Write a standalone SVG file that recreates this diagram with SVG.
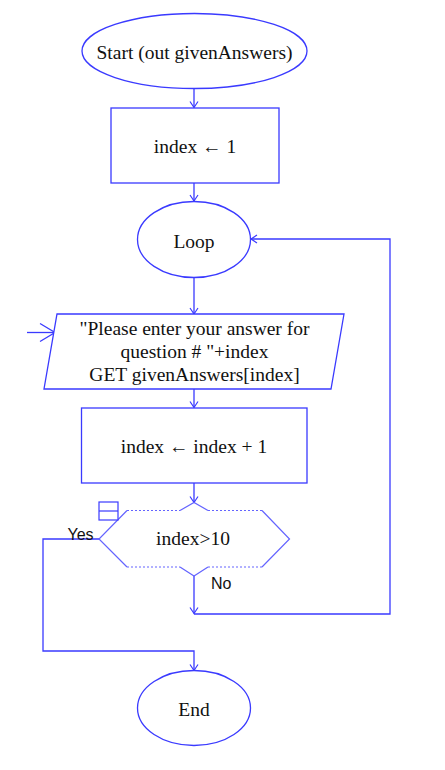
<svg xmlns="http://www.w3.org/2000/svg" width="445" height="770" viewBox="0 0 445 770">
<style>
.n{fill:#fff;stroke:#3a3aff;stroke-width:1.3}
.h{fill:none;stroke:#6464ff;stroke-width:1.2}
.hd{fill:none;stroke:#6464ff;stroke-width:1.2;stroke-dasharray:2 2}
.c{fill:none;stroke:#3a3aff;stroke-width:1.3}
.t{font-family:"Liberation Serif","Times New Roman",serif;font-size:19.5px;fill:#111;text-anchor:middle}
.s{font-family:"Liberation Sans",Arial,sans-serif;font-size:16px;fill:#111}
</style>
<defs>
<marker id="a" markerUnits="userSpaceOnUse" markerWidth="12" markerHeight="12" refX="0" refY="0" viewBox="-7 -6 8 12" orient="auto">
<path d="M-6,-4 L0,0 L-6,4" fill="none" stroke="#3a3aff" stroke-width="1.2"/>
</marker>
<marker id="b" markerUnits="userSpaceOnUse" markerWidth="20" markerHeight="22" refX="0" refY="0" viewBox="-17 -11 18 22" orient="auto">
<path d="M-15,-9 L0,0 L-15,9" fill="none" stroke="#3a3aff" stroke-width="1.3"/>
</marker>
</defs>
<g id="connectors">
<path class="c" d="M194,89 V107.5" marker-end="url(#a)"/>
<path class="c" d="M194,183 V201" marker-end="url(#a)"/>
<path class="c" d="M194,278 V314" marker-end="url(#a)"/>
<path class="c" d="M27,332.5 H55" marker-end="url(#b)"/>
<path class="c" d="M194,389 V407.5" marker-end="url(#a)"/>
<path class="c" d="M194,483 V502.5" marker-end="url(#a)"/>
<path class="c" d="M194,576 V613.5" marker-end="url(#a)"/>
<path class="c" d="M194,614 H390 V239 H251" marker-end="url(#a)"/>
<path class="c" d="M99,539 H43 V651 H194 V670.5" marker-end="url(#a)"/>
</g>
<g id="start">
<ellipse class="n" cx="194.5" cy="51" rx="112.5" ry="37.5"/>
<text class="t" x="194.5" y="59">Start (out givenAnswers)</text>
</g>
<g id="init">
<rect class="n" x="111" y="108" width="168" height="75"/>
<text class="t" x="195" y="152.5">index ← 1</text>
</g>
<g id="loop">
<ellipse class="n" cx="194" cy="239.5" rx="56.5" ry="38"/>
<text class="t" x="194" y="248">Loop</text>
</g>
<g id="input">
<polygon class="n" points="57,314 344,314 331,389 44,389"/>
<text class="t" x="194.5" y="335">"Please enter your answer for</text>
<text class="t" x="194.5" y="357.5">question # "+index</text>
<text class="t" x="194.5" y="380.5">GET givenAnswers[index]</text>
</g>
<g id="increment">
<rect class="n" x="81.5" y="408" width="225.5" height="75"/>
<text class="t" x="194" y="452.5">index ← index + 1</text>
</g>
<g id="decision">
<path class="hd" d="M127,510.5 H180 M208,510.5 H262 M127,567 H180 M208,567 H262"/>
<path class="h" d="M180,510.5 L194,502.5 L208,510.5 M180,567 L194,576 L208,567 M127,510.5 L99,539 L127,567 M262,510.5 L289.5,539 L262,567"/>
<rect x="99" y="502" width="19" height="18" fill="#fff" stroke="#3a3aff" stroke-width="1.2"/>
<path d="M99,511 H118" stroke="#3a3aff" stroke-width="1.2"/>
<text class="t" x="193" y="544.5">index&gt;10</text>
<text class="s" x="67.5" y="539.5">Yes</text>
<text class="s" x="211" y="588.5">No</text>
</g>
<g id="end">
<ellipse class="n" cx="194" cy="708" rx="56.5" ry="37.5"/>
<text class="t" x="194" y="716">End</text>
</g>
</svg>
